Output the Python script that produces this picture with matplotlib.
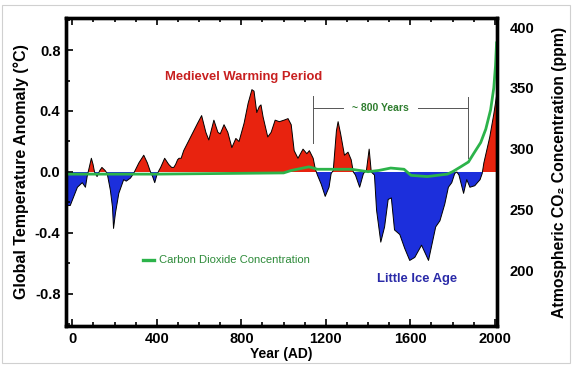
import numpy as np
import matplotlib
matplotlib.use('Agg')
import matplotlib.pyplot as plt
from matplotlib.patches import Rectangle

plt.rcParams['font.family'] = ['Liberation Sans', 'DejaVu Sans']
plt.rcParams['font.weight'] = 'bold'

# temperature anomaly (deg C)
temp_years = [-25, -10, 10, 24, 47, 62, 70, 80, 90, 98, 105, 117, 130, 140, 155, 165,
              180, 190, 195, 204, 220, 243, 255, 275, 290, 297, 315, 338, 355, 370,
              380, 390, 400, 410, 418, 437, 456, 470, 480, 489, 498, 505, 515, 527,
              560, 593, 612, 632, 646, 670, 689, 700, 718, 736, 755, 774, 789, 813,
              832, 850, 860, 873, 885, 893, 903, 925, 941, 960, 980, 1002, 1021, 1036,
              1050, 1068, 1092, 1110, 1122, 1140, 1150, 1160, 1178, 1197, 1215, 1225,
              1235, 1250, 1258, 1270, 1288, 1305, 1320, 1330, 1340, 1360, 1378, 1392,
              1405, 1415, 1430, 1440, 1460, 1478, 1495, 1510, 1525, 1550, 1573, 1597,
              1621, 1653, 1686, 1700, 1720, 1740, 1763, 1780, 1796, 1810, 1820, 1830,
              1852, 1867, 1882, 1905, 1930, 1940, 1948, 1976, 1995, 2008]
temp_vals = [-0.22, -0.22, -0.15, -0.10, -0.07, -0.10, -0.03, 0.03, 0.09, 0.05, 0.0,
             -0.03, 0.01, 0.03, 0.01, -0.01, -0.12, -0.23, -0.37, -0.27, -0.14, -0.05,
             -0.06, -0.04, -0.01, 0.01, 0.06, 0.11, 0.06, 0.0, -0.03, -0.07, -0.02, 0.01,
             0.03, 0.09, 0.05, 0.03, 0.03, 0.05, 0.08, 0.09, 0.09, 0.14, 0.23, 0.32, 0.37,
             0.26, 0.21, 0.34, 0.26, 0.25, 0.31, 0.26, 0.16, 0.22, 0.20, 0.32, 0.45, 0.54,
             0.53, 0.39, 0.43, 0.44, 0.36, 0.23, 0.26, 0.34, 0.33, 0.34, 0.35, 0.31, 0.14,
             0.09, 0.15, 0.12, 0.14, 0.09, 0.02, -0.02, -0.08, -0.16, -0.10, -0.01, 0.01,
             0.27, 0.33, 0.25, 0.11, 0.13, 0.08, 0.0, -0.02, -0.10, -0.01, 0.01, 0.15, 0.0,
             -0.02, -0.25, -0.46, -0.36, -0.18, -0.17, -0.38, -0.41, -0.50, -0.58, -0.56,
             -0.48, -0.58, -0.49, -0.36, -0.32, -0.21, -0.10, -0.07, -0.01, 0.0, -0.02,
             -0.14, -0.05, -0.10, -0.09, -0.05, -0.01, 0.06, 0.23, 0.38, 0.50]

# CO2 concentration (ppm)
co2_years = [-25, 400, 1000, 1036, 1120, 1160, 1320, 1400, 1450, 1507, 1570, 1603,
             1680, 1775, 1800, 1838, 1875, 1900, 1933, 1957, 1980, 1995, 2003, 2008]
co2_vals = [279, 279, 280, 282, 285, 283, 283, 281, 282, 284, 283, 278,
            277, 279, 281, 285, 289, 296, 305, 316, 332, 350, 368, 387]

x_ticks = [0, 400, 800, 1200, 1600, 2000]
temp_ticks = [-0.8, -0.4, 0.0, 0.4, 0.8]
co2_ticks = [200, 250, 300, 350, 400]

t = np.array(temp_years)
v = np.array(temp_vals)

fig = plt.figure(figsize=(5.75, 3.70), dpi=100)
fig.patches.append(Rectangle((0.004, 0.019), 0.988, 0.967, transform=fig.transFigure,
                             fill=False, edgecolor='#d0d0d0', lw=0.8))
ax = fig.add_axes([0.1148, 0.1189, 0.7495, 0.8325])

ax.fill_between(t, v, 0, where=v >= 0, interpolate=True, color='#e8230f', lw=0)
ax.fill_between(t, v, 0, where=v <= 0, interpolate=True, color='#1c2fdc', lw=0)
ax.plot(t, v, color='black', lw=0.7)

ax.set_xlim(-30, 2010)
ax.set_ylim(-1.01, 1.01)
ax.set_xticks(x_ticks)
ax.set_xticks(np.arange(0, 2001, 100), minor=True)
ax.set_yticks(temp_ticks)
ax.set_yticklabels(['%.1f' % y for y in temp_ticks])
ax.set_yticks(np.arange(-1.0, 1.01, 0.2), minor=True)
ax.tick_params(which='both', direction='in', top=True, right=False, width=1.2)
ax.tick_params(which='major', length=5, labelsize=10.5, pad=4)
ax.tick_params(which='minor', length=3)
for s in ax.spines.values():
    s.set_linewidth(2.4)
ax.set_xlabel('Year (AD)', fontsize=10, fontweight='bold', labelpad=1)
ax.set_ylabel('Global Temperature Anomaly (°C)', fontsize=11.5, fontweight='bold',
              labelpad=4)

ax2 = ax.twinx()
ax2.plot(co2_years, co2_vals, color='#2cb34a', lw=2.0)
ax2.set_ylim(154, 407.5)
ax2.set_yticks(co2_ticks)
ax2.tick_params(direction='in', length=0, labelsize=10.5, pad=9)
ax2.set_ylabel('Atmospheric CO₂ Concentration (ppm)', fontsize=11.3,
               fontweight='bold', labelpad=13)
for s in ax2.spines.values():
    s.set_linewidth(2.4)

# annotations
ax.text(809, 0.62, 'Medievel Warming Period', color='#c82020', fontsize=9.4,
        fontweight='bold', ha='center', va='center')
ax.text(1634, -0.70, 'Little Ice Age', color='#2a2aa8', fontsize=9.4,
        fontweight='bold', ha='center', va='center')
ax.text(1459, 0.42, '~ 800 Years', color='#2e7d2e', fontsize=7.5,
        fontweight='bold', ha='center', va='center')
ax.plot([1141, 1141], [0.19, 0.50], color='#555555', lw=0.7)
ax.plot([1875, 1875], [0.09, 0.49], color='#555555', lw=0.7)
ax.plot([1141, 1283], [0.42, 0.42], color='#555555', lw=0.7)
ax.plot([1638, 1875], [0.42, 0.42], color='#555555', lw=0.7)

ax.plot([335, 385], [-0.577, -0.577], color='#2cb34a', lw=2.4)
ax.text(411, -0.577, 'Carbon Dioxide Concentration', color='#2e8b3a', fontsize=8.1,
        fontweight='normal', ha='left', va='center')

fig.savefig('out.png', dpi=100)
